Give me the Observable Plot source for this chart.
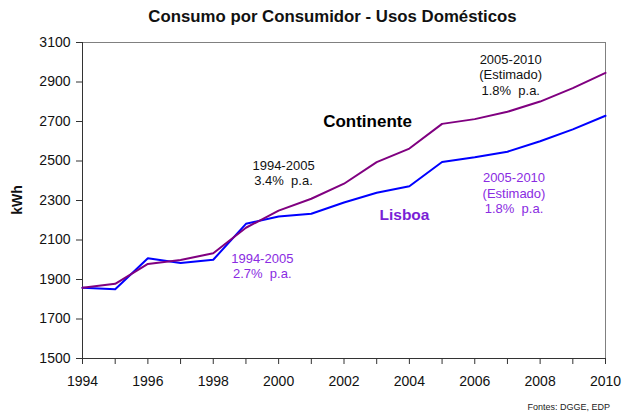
<!DOCTYPE html>
<html>
<head>
<meta charset="utf-8">
<script src="https://cdn.jsdelivr.net/npm/d3@7"></script>
<script src="https://cdn.jsdelivr.net/npm/@observablehq/plot@0.6"></script>
<style>
  html, body { margin: 0; padding: 0; background: #fff; }
  body { width: 627px; height: 414px; overflow: hidden; font-family: "Liberation Sans", Arial, sans-serif; }
  #title { height: 30px; line-height: 34px; font-weight: bold; font-size: 16.8px; color: #111; text-align: center; padding-left: 38px; box-sizing: border-box; width: 627px; }
  #caption { height: 14px; font-size: 9px; color: #222; text-align: right; padding-right: 17px; line-height: 14px; }
</style>
</head>
<body>
<div id="title">Consumo por Consumidor - Usos Domésticos</div>
<div id="chart"></div>
<div id="caption">Fontes: DGGE, EDP</div>
<script>
const years = [1994,1995,1996,1997,1998,1999,2000,2001,2002,2003,2004,2005,2006,2007,2008,2009,2010];
const continente = [1858,1878,1979,1999,2033,2162,2249,2309,2385,2494,2563,2688,2712,2749,2801,2869,2946];
const lisboa = [1858,1851,2008,1984,2000,2182,2219,2233,2290,2339,2372,2495,2519,2547,2600,2660,2729];
const yTicks = [1500,1700,1900,2100,2300,2500,2700,2900,3100];
const xLabelTicks = [1994,1996,1998,2000,2002,2004,2006,2008,2010];

const notesBlack = [
  {x: 2000.15, y: 2442, text: "1994-2005\n3.4%  p.a."},
  {x: 2007.1, y: 2938, text: "2005-2010\n(Estimado)\n1.8%  p.a."}
];
const notesPurple = [
  {x: 1999.5, y: 1971, text: "1994-2005\n2.7%  p.a."},
  {x: 2007.2, y: 2340, text: "2005-2010\n(Estimado)\n1.8%  p.a."}
];
const seriesLabels = [
  {x: 2002.72, y: 2700, text: "Continente", color: "#000000", size: 17},
  {x: 2003.85, y: 2224, text: "Lisboa", color: "#7a1fd6", size: 15.5}
];

const contData = years.map((y, i) => ({year: y, value: continente[i]}));
const lisData = years.map((y, i) => ({year: y, value: lisboa[i]}));

const chart = Plot.plot({
  width: 627,
  height: 370,
  marginTop: 12,
  marginBottom: 42,
  marginLeft: 82,
  marginRight: 22,
  style: {fontFamily: "'Liberation Sans', Arial, sans-serif", fontSize: "14px", color: "#111", background: "#fff"},
  x: {domain: [1994, 2010], label: null},
  y: {domain: [1500, 3100], label: null},
  marks: [
    Plot.ruleY([3100], {stroke: "#808080", strokeWidth: 1}),
    Plot.ruleX([2010], {stroke: "#808080", strokeWidth: 1}),
    Plot.ruleX([1994], {stroke: "#333", strokeWidth: 1}),
    Plot.ruleY([1500], {stroke: "#333", strokeWidth: 1}),
    Plot.axisX({ticks: years, tickFormat: d => xLabelTicks.includes(d) ? String(d) : "", tickSize: 6, tickPadding: 12, stroke: "#333", fontSize: 14, label: null}),
    Plot.axisY({ticks: yTicks, tickSize: 6, tickPadding: 6, stroke: "#333", fontSize: 14, tickFormat: d => String(d), label: null}),
    Plot.line(lisData, {x: "year", y: "value", stroke: "#0000ff", strokeWidth: 2}),
    Plot.line(contData, {x: "year", y: "value", stroke: "#800080", strokeWidth: 2}),
    Plot.text(notesBlack, {x: "x", y: "y", text: "text", fill: "#111", fontSize: 13, lineHeight: 1.2}),
    Plot.text(notesPurple, {x: "x", y: "y", text: "text", fill: "#8a2be2", fontSize: 13, lineHeight: 1.2}),
    Plot.text(seriesLabels.slice(0, 1), {x: "x", y: "y", text: "text", fill: "color", fontSize: 17, fontWeight: "bold"}),
    Plot.text(seriesLabels.slice(1), {x: "x", y: "y", text: "text", fill: "color", fontSize: 15.5, fontWeight: "bold"})
  ]
});
chart.style.display = "block";
document.getElementById("chart").appendChild(chart);

const svg = d3.select(chart);
svg.append("text")
  .attr("transform", "translate(22,170) rotate(-90)")
  .attr("text-anchor", "middle")
  .attr("font-weight", "bold")
  .attr("font-size", 14)
  .attr("fill", "#111")
  .text("kWh");
</script>
</body>
</html>
